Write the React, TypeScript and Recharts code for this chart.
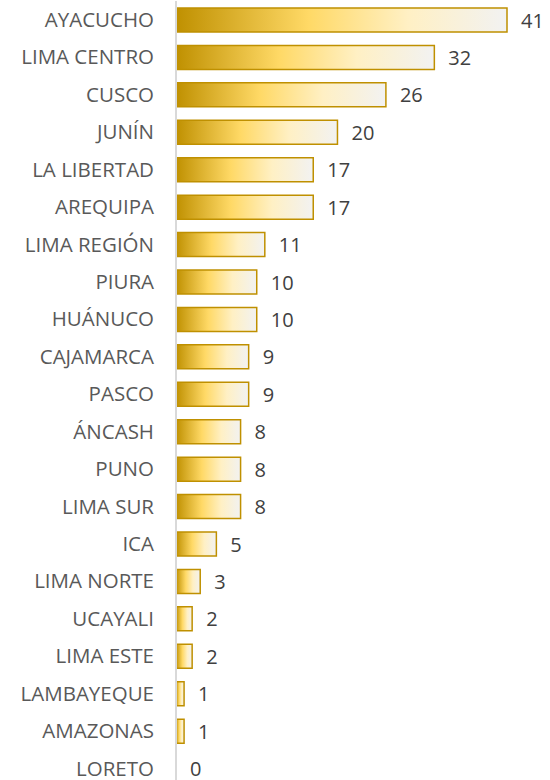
import { Bar, BarChart, LabelList, Rectangle, XAxis, YAxis } from "recharts";

// regions ordered as in the reference (largest first)
const regions = [
  "AYACUCHO",
  "LIMA CENTRO",
  "CUSCO",
  "JUNÍN",
  "LA LIBERTAD",
  "AREQUIPA",
  "LIMA REGIÓN",
  "PIURA",
  "HUÁNUCO",
  "CAJAMARCA",
  "PASCO",
  "ÁNCASH",
  "PUNO",
  "LIMA SUR",
  "ICA",
  "LIMA NORTE",
  "UCAYALI",
  "LIMA ESTE",
  "LAMBAYEQUE",
  "AMAZONAS",
  "LORETO",
];
const counts = [41, 32, 26, 20, 17, 17, 11, 10, 10, 9, 9, 8, 8, 8, 5, 3, 2, 2, 1, 1, 0];

const data = regions.map((name, i) => ({ name, value: counts[i] }));

const font = "'Open Sans', 'DejaVu Sans', sans-serif";

// draw the value even when the bar has zero width (LORETO)
function ValueLabel(props: any) {
  const { x, y, width, height, value } = props;
  if (x == null || y == null) return null;
  const w = Number(value) === 0 ? 0 : Number(width || 0);
  return (
    <text
      x={Number(x) + w + 14}
      y={Number(y) + Number(height) / 2}
      dominantBaseline="central"
      fill="#404040"
      fontSize={20}
      fontFamily={font}
    >
      {value}
    </text>
  );
}

// zero bars keep a tiny slot (so the label is kept) but draw nothing
function GoldBar(props: any) {
  if (props.payload && props.payload.value === 0) return <g />;
  return <Rectangle {...props} />;
}

export default function App() {
  return (
    <div
      style={{
        position: "absolute",
        left: 0,
        top: 0,
        width: 550,
        height: 780,
        overflow: "hidden",
        background: "#fff",
        fontFamily: font,
      }}
    >
      <BarChart
        width={550}
        height={787}
        data={data}
        layout="vertical"
        margin={{ top: 1, right: 43, bottom: 0, left: 0 }}
        barSize={24}
      >
        <defs>
          <linearGradient id="goldFill" x1="0" y1="0" x2="1" y2="0">
            <stop offset="0%" stopColor="#BF9000" />
            <stop offset="40%" stopColor="#FFD966" />
            <stop offset="70%" stopColor="#FFF0C4" />
            <stop offset="100%" stopColor="#F2F2F2" />
          </linearGradient>
        </defs>
        <XAxis type="number" domain={[0, 41]} hide />
        <YAxis
          type="category"
          dataKey="name"
          width={176}
          tickLine={false}
          tickSize={0}
          tickMargin={22}
          axisLine={{ stroke: "#D9D9D9", strokeWidth: 2 }}
          tick={{ fill: "#595959", fontSize: 20.5, fontFamily: font }}
          interval={0}
        />
        <Bar
          dataKey="value"
          fill="url(#goldFill)"
          stroke="#BF9000"
          strokeWidth={1.5}
          minPointSize={(v: number) => (v === 0 ? 0.01 : 0)}
          shape={GoldBar}
          isAnimationActive={false}
        >
          <LabelList dataKey="value" content={ValueLabel} />
        </Bar>
      </BarChart>
    </div>
  );
}
